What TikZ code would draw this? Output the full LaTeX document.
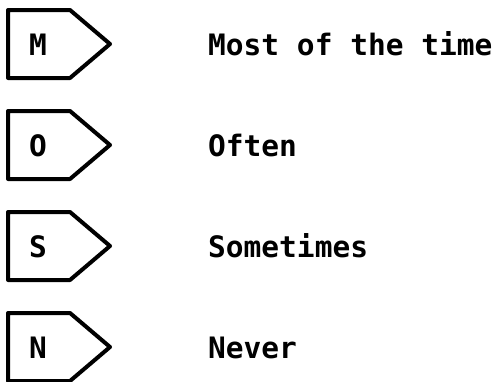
\documentclass[tikz,border=0pt]{standalone}
\usepackage{fontspec}
\newfontfamily\monob{DejaVu Sans Mono Bold}
\begin{document}
\begin{tikzpicture}[x=1pt,y=-1pt,
  tag/.style={line width=4pt,line join=round,draw=black},
  letter/.style={font=\monob\fontsize{29.5}{31}\selectfont,inner sep=0pt,anchor=base},
  label/.style={font=\monob\fontsize{29.5}{31}\selectfont,inner sep=0pt,anchor=base west}]
\useasboundingbox (0,0) rectangle (496,381);
\foreach \c/\l/\t/\n in {44/M/Most of the time/m,145/O/Often/o,246/S/Sometimes/s,347/N/Never/nv}{
  \draw[tag] (8,\c-34) -- (70,\c-34) -- (110,\c) -- (70,\c+34) -- (8,\c+34) -- cycle;
  \node[letter] (\n-key) at (38,\c+11) {\l};
  \node[label] (\n-text) at (208,\c+11) {\t};
}
\end{tikzpicture}
\end{document}
